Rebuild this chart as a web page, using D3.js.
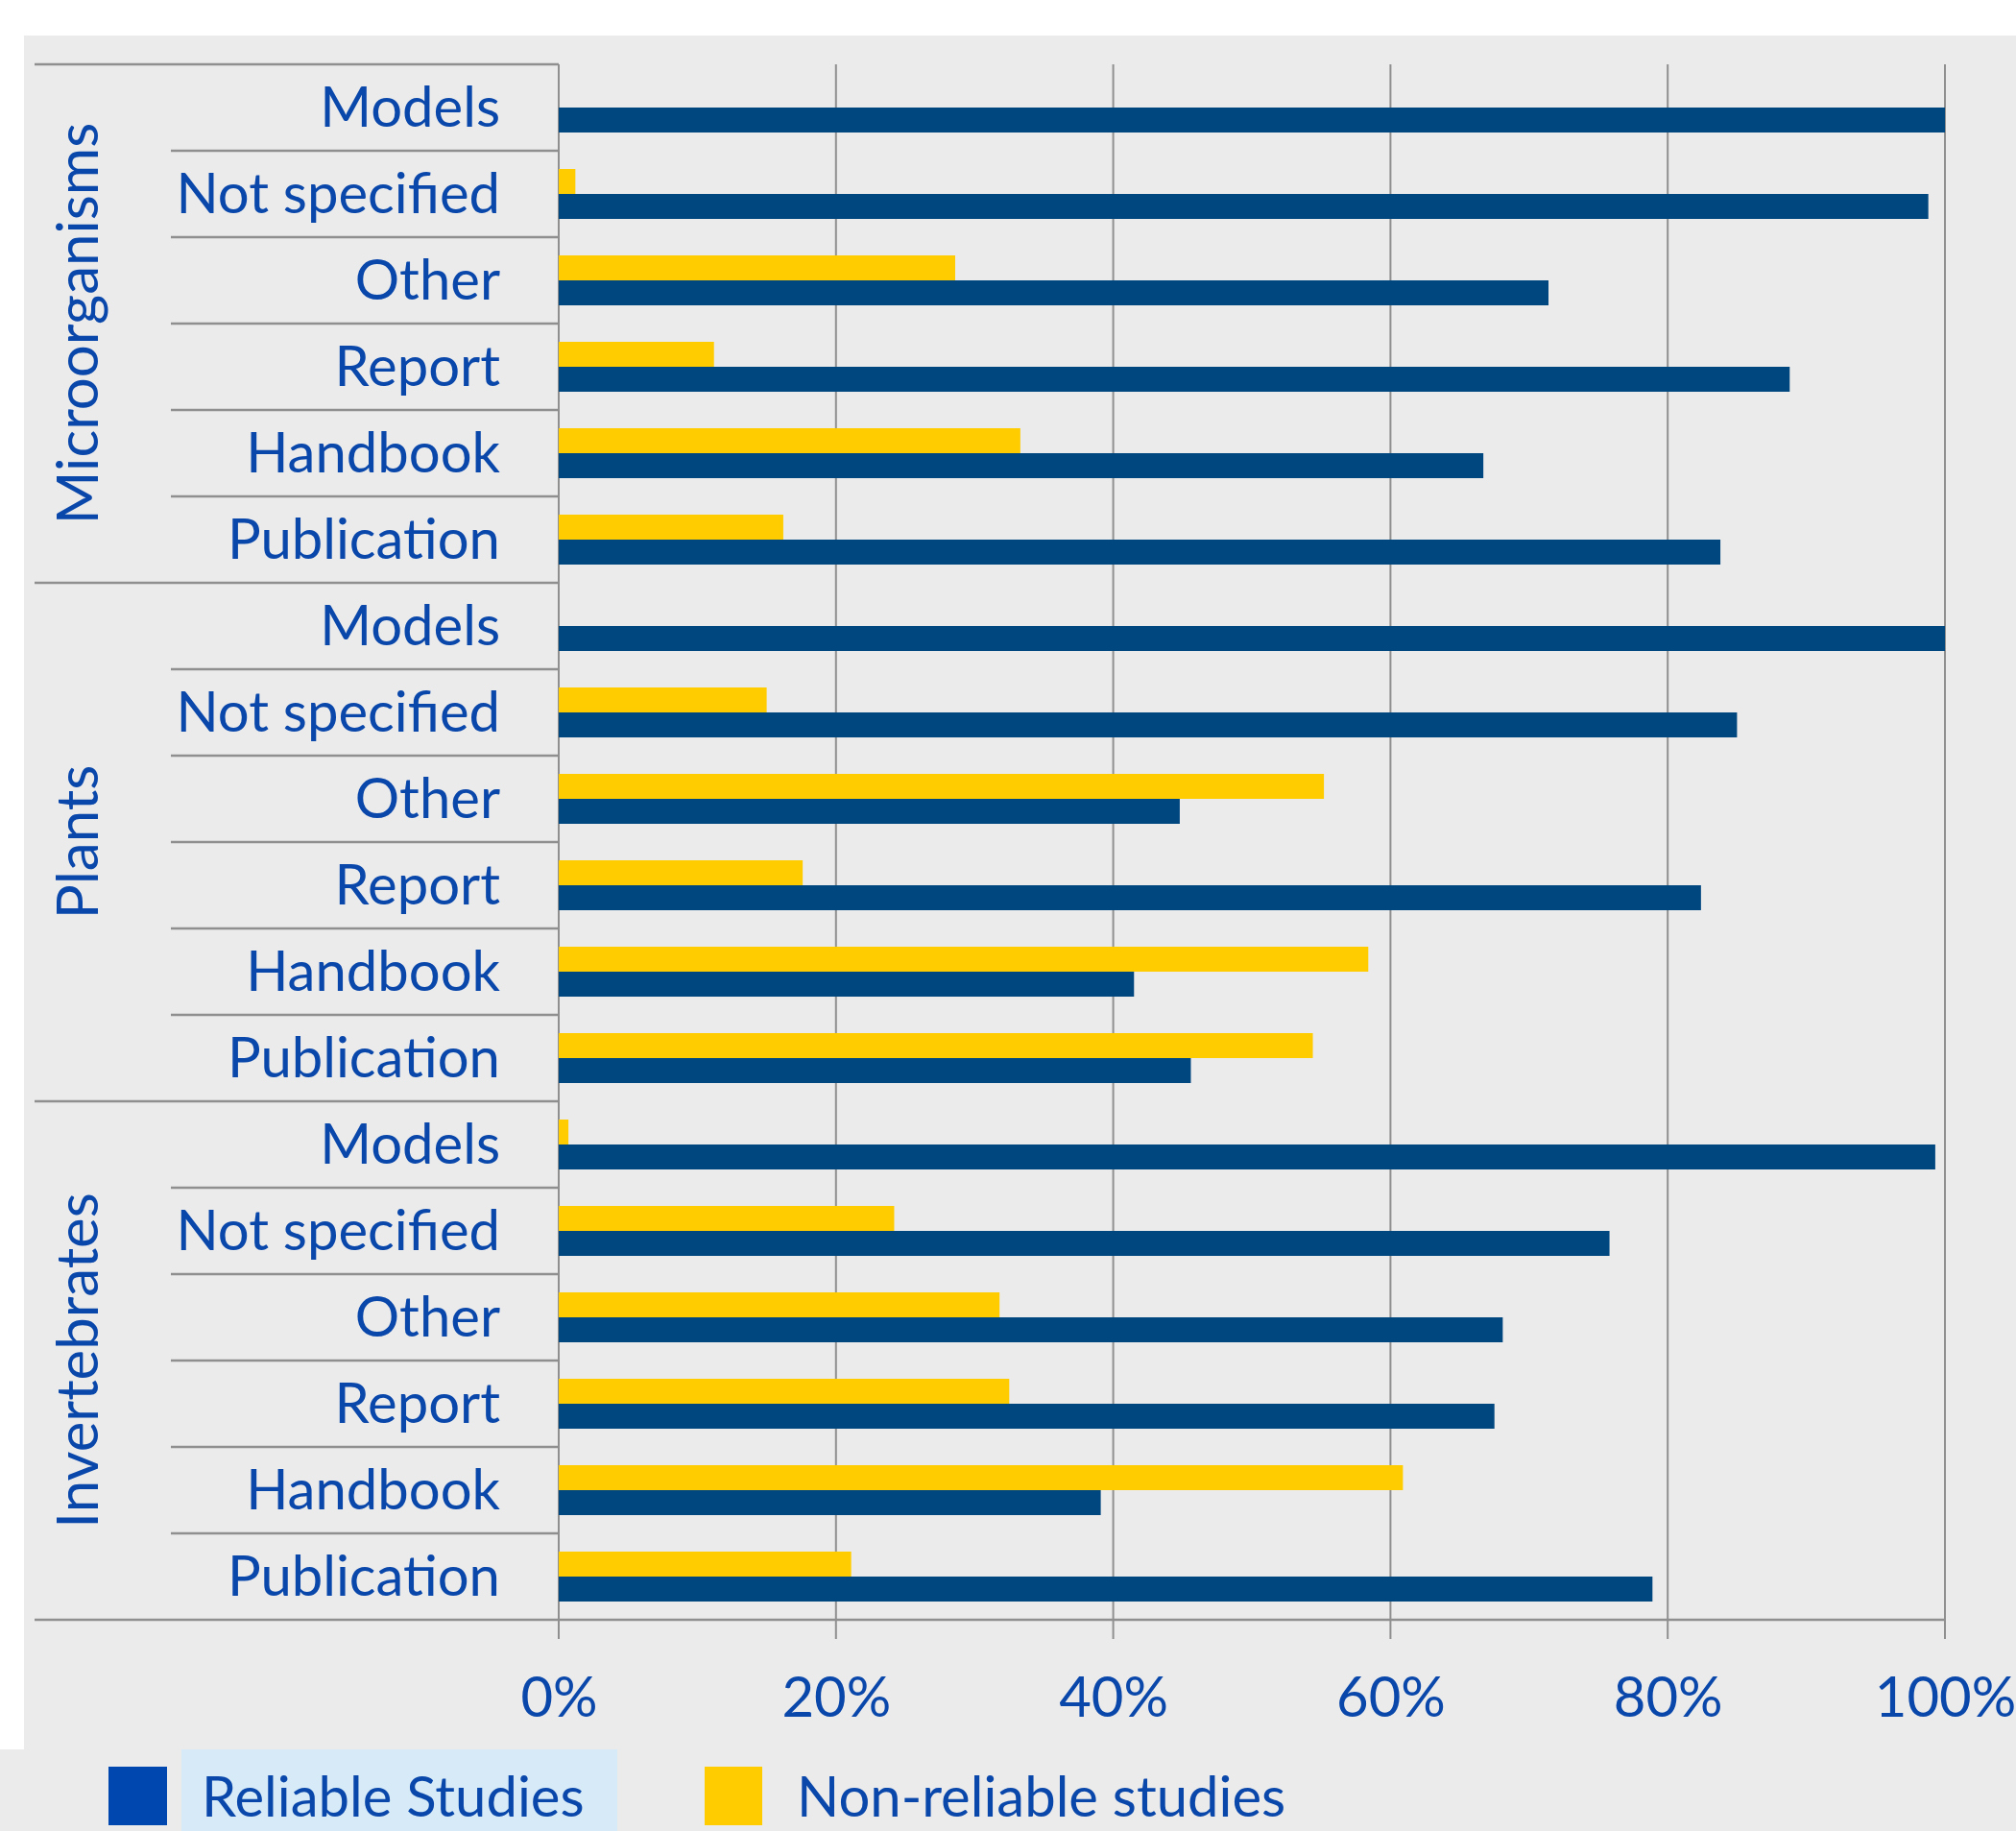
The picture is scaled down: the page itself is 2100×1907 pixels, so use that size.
<!DOCTYPE html>
<html>
<head>
<meta charset="utf-8">
<script src="https://cdn.jsdelivr.net/npm/d3@7"></script>
<style>
  body { margin: 0; background: #fff; }
  svg text { font-family: Lato, "Open Sans", sans-serif; fill: #0a47ab; }
</style>
</head>
<body>
<svg id="chart" width="2100" height="1907"></svg>
<script>
// groups top to bottom, rows inside each group top to bottom
const groups = ['Microorganisms', 'Plants', 'Invertebrates'];
const sources = ['Models', 'Not specified', 'Other', 'Report', 'Handbook', 'Publication'];
// share of reliable / non-reliable studies, per group, in the order of sources
const reliable = [
  [1.000, 0.988, 0.714, 0.888, 0.667, 0.838],
  [1.000, 0.850, 0.448, 0.824, 0.415, 0.456],
  [0.993, 0.758, 0.681, 0.675, 0.391, 0.789]
];
const nonReliable = [
  [0.000, 0.012, 0.286, 0.112, 0.333, 0.162],
  [0.000, 0.150, 0.552, 0.176, 0.584, 0.544],
  [0.007, 0.242, 0.318, 0.325, 0.609, 0.211]
];
const tickValues = [0, 0.2, 0.4, 0.6, 0.8, 1];
const legendLabels = ['Reliable Studies', 'Non-reliable studies'];

const BLUE = '#00467f', YELLOW = '#ffcc00', LINE = '#8f8f8f';
const svg = d3.select('#chart');

// background panel + legend band
svg.append('rect').attr('x', 25).attr('y', 37).attr('width', 2075).attr('height', 1790).attr('fill', '#ebebeb');
svg.append('rect').attr('x', 0).attr('y', 1822).attr('width', 2100).attr('height', 85).attr('fill', '#ebebeb');

const x = d3.scaleLinear().domain([0, 1]).range([582, 2026]);
const rows = [];
groups.forEach((g, gi) => sources.forEach((s, si) => rows.push({
  g: gi, s: si, label: s, rel: reliable[gi][si], non: nonReliable[gi][si]
})));
const y = d3.scaleBand().domain(d3.range(rows.length)).range([67, 1687]);
const bh = 26;

// vertical gridlines (with tick marks below the axis)
svg.append('g').selectAll('line').data(tickValues).join('line')
  .attr('x1', d => x(d)).attr('x2', d => x(d))
  .attr('y1', 67).attr('y2', 1707)
  .attr('stroke', LINE).attr('stroke-width', 2);

// row separators in the label area
svg.append('g').selectAll('line').data(d3.range(rows.length + 1)).join('line')
  .attr('x1', i => (i % sources.length === 0) ? 36 : 178)
  .attr('x2', i => i === rows.length ? x(1) : x(0))
  .attr('y1', i => i === rows.length ? 1687 : y(i))
  .attr('y2', i => i === rows.length ? 1687 : y(i))
  .attr('stroke', LINE).attr('stroke-width', 2.5);

// bars
const bars = svg.append('g');
bars.selectAll('rect.non').data(rows.map((r, i) => ({...r, i})).filter(r => r.non > 0)).join('rect')
  .attr('class', 'non')
  .attr('x', x(0)).attr('width', d => x(d.non) - x(0))
  .attr('y', d => y(d.i) + y.bandwidth() / 2 - bh)
  .attr('height', bh).attr('fill', YELLOW);
bars.selectAll('rect.rel').data(rows).join('rect')
  .attr('class', 'rel')
  .attr('x', x(0)).attr('width', d => x(d.rel) - x(0))
  .attr('y', (d, i) => y(i) + y.bandwidth() / 2)
  .attr('height', bh).attr('fill', BLUE);

// row labels
svg.append('g').selectAll('text').data(rows).join('text')
  .attr('x', 521).attr('y', (d, i) => y(i) + y.bandwidth() / 2 + 20)
  .attr('text-anchor', 'end').attr('font-size', 58)
  .text(d => d.label);

// group labels
svg.append('g').selectAll('text').data(groups).join('text')
  .attr('transform', (d, gi) => {
    const cy = (y(gi * sources.length) + y((gi + 1) * sources.length - 1) + y.bandwidth()) / 2;
    return `translate(102,${cy}) rotate(-90)`;
  })
  .attr('text-anchor', 'middle').attr('font-size', 60)
  .text(d => d);

// x axis labels
const axis = svg.append('g').attr('transform', 'translate(0,1687)')
  .call(d3.axisBottom(x).tickValues(tickValues).tickFormat(d3.format('.0%')).tickSize(0));
axis.select('.domain').remove();
axis.selectAll('text').attr('dy', null).attr('y', 101)
  .attr('font-size', 58).attr('font-family', 'Lato, sans-serif').attr('fill', '#0a47ab');

// legend
const leg = svg.append('g');
leg.append('rect').attr('x', 189).attr('y', 1822).attr('width', 454).attr('height', 85).attr('fill', '#d6ebf7');
leg.append('rect').attr('x', 113).attr('y', 1840).attr('width', 61).attr('height', 61).attr('fill', '#0047b0');
leg.append('text').attr('x', 210).attr('y', 1892).attr('font-size', 58).text(legendLabels[0]);
leg.append('rect').attr('x', 734).attr('y', 1840).attr('width', 60).attr('height', 61).attr('fill', YELLOW);
leg.append('text').attr('x', 830).attr('y', 1892).attr('font-size', 58).text(legendLabels[1]);
</script>
</body>
</html>
